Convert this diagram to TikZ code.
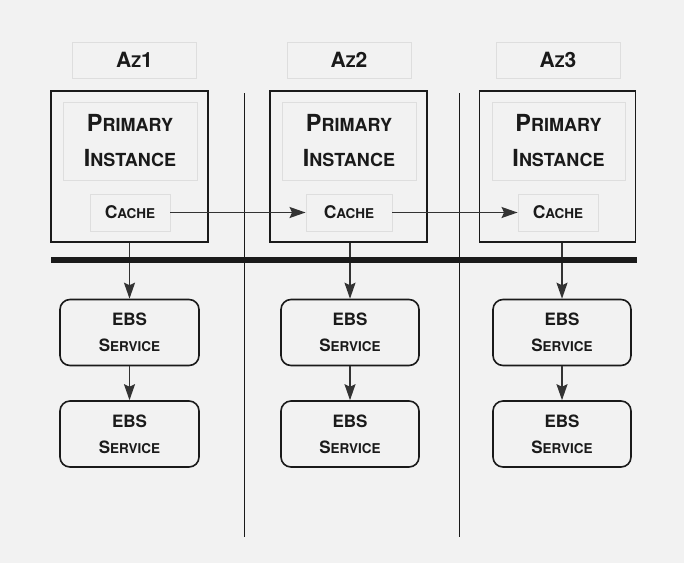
\documentclass[tikz,border=0pt]{standalone}
\usepackage{fontspec}
\setmainfont{TeX Gyre Heros}
\usetikzlibrary{arrows.meta}
\definecolor{bg}{HTML}{F2F2F2}
\definecolor{ink}{HTML}{1A1A1A}
\definecolor{arrowc}{HTML}{333333}
\definecolor{light}{HTML}{DEDEDE}
% fake small caps: #1 big letter, #2 small letters, #3 small size
\newcommand\FakeSC[3]{#1{\fontsize{#3}{#3}\selectfont #2}}
\tikzset{
  lightbox/.style={draw=light, line width=0.9pt, fill=none, inner sep=0pt, text=ink},
  outerbox/.style={draw=ink, line width=1.8pt, inner sep=0pt},
  ebsbox/.style={draw=ink, line width=1.6pt, rounded corners=10pt, inner sep=0pt,
    minimum width=138pt, minimum height=66pt, align=center, text=ink,
    font={\bfseries\fontsize{17}{26}\selectfont}},
  azbox/.style={lightbox, minimum width=124pt, minimum height=36pt,
    font={\bfseries\fontsize{21}{21}\selectfont}},
  primbox/.style={lightbox, minimum width=134pt, minimum height=78pt, align=center,
    font={\bfseries\fontsize{23.5}{35}\selectfont}},
  cachebox/.style={lightbox, minimum height=37pt,
    font={\bfseries\fontsize{17.5}{17.5}\selectfont}},
  arr/.style={draw=arrowc, line width=1.6pt, -{Stealth[length=16pt,width=11pt,inset=2.5pt]}},
  sep/.style={draw=ink, line width=1.8pt},
  bar/.style={draw=ink, line width=6pt}
}
\newcommand\Prim{\FakeSC{P}{RIMARY}{18}\\\FakeSC{I}{NSTANCE}{18}}
\newcommand\Cach{\FakeSC{C}{ACHE}{13.5}}
\newcommand\Ebs{EBS\\\FakeSC{S}{ERVICE}{13.5}}
\begin{document}
\begin{tikzpicture}[x=1pt,y=-1pt]
\fill[bg] (0,0) rectangle (684,563);
\useasboundingbox (0,0) rectangle (684,563);

% AZ labels
\node[azbox] (az1) at (134.5,60) {\FakeSC{A}{Z}{16}1};
\node[azbox] (az2) at (349,60) {\FakeSC{A}{Z}{16}2};
\node[azbox] (az3) at (558,60) {\FakeSC{A}{Z}{16}3};

% outer instance boxes
\node[outerbox, minimum width=157pt, minimum height=151pt] (out1) at (129.5,166.5) {};
\node[outerbox, minimum width=157pt, minimum height=151pt] (out2) at (348.5,166.5) {};
\node[outerbox, minimum width=156pt, minimum height=151pt] (out3) at (557.5,166.5) {};

% primary instance boxes
\node[primbox] (p1) at (130,141) {\Prim};
\node[primbox] (p2) at (349,141) {\Prim};
\node[primbox, minimum width=133pt] (p3) at (558.5,141) {\Prim};

% cache boxes
\node[cachebox, minimum width=80pt] (c1) at (130,212.5) {\Cach};
\node[cachebox, minimum width=86pt] (c2) at (349,212.5) {\Cach};
\node[cachebox, minimum width=80pt] (c3) at (558,212.5) {\Cach};

% separators
\coordinate (v1t) at (244.5,93);
\coordinate (v1b) at (244.5,537);
\coordinate (v2t) at (459.5,93);
\coordinate (v2b) at (459.5,537);
\coordinate (bl) at (51,260);
\coordinate (br) at (636.5,260);
\draw[sep] (v1t) -- (v1b);
\draw[sep] (v2t) -- (v2b);

% EBS boxes
\node[ebsbox, minimum width=139pt] (e1a) at (129.5,332.5) {\Ebs};
\node[ebsbox, minimum width=139pt] (e1b) at (129.5,434) {\Ebs};
\node[ebsbox] (e2a) at (350,332.5) {\Ebs};
\node[ebsbox] (e2b) at (350,434) {\Ebs};
\node[ebsbox] (e3a) at (562,332.5) {\Ebs};
\node[ebsbox] (e3b) at (562,434) {\Ebs};

% arrows
\draw[arr] (c1.east) -- (c2.west);
\draw[arr] (c2.east) -- (c3.west);
\draw[arr] (e1a.north |- out1.south) -- (e1a.north);
\draw[arr] (e2a.north |- out2.south) -- (e2a.north);
\draw[arr] (e3a.north |- out3.south) -- (e3a.north);
\draw[arr] (e1a) -- (e1b);
\draw[arr] (e2a) -- (e2b);
\draw[arr] (e3a) -- (e3b);

% thick bar
\draw[bar] (bl) -- (br);
\end{tikzpicture}
\end{document}
